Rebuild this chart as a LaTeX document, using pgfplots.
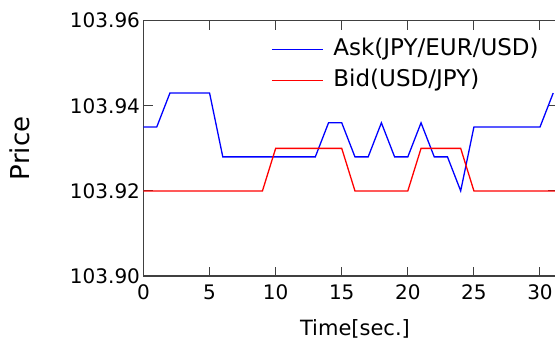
\documentclass[border=0pt]{standalone}
\usepackage{pgfplots}
\pgfplotsset{compat=1.18}
\usepackage{fontspec}
\setmainfont{DejaVu Sans}
\begin{document}
\begin{tikzpicture}
\begin{axis}[
  scale only axis, width=413pt, height=255.3pt,
  xmin=0, xmax=31.25, ymin=103.90, ymax=103.96,
  xtick={0,5,...,30}, ytick={103.90,103.92,103.94,103.96},
  scaled y ticks=false,
  tick align=inside, major tick length=9pt,
  axis line style={black!75, line width=1.3pt},
  every tick/.style={black!75, line width=1pt},
  /pgf/number format/assume math mode=true,
  yticklabel style={/pgf/number format/.cd, fixed, fixed zerofill, precision=2},
  ticklabel style={font=\fontsize{20}{24}\selectfont},
  xticklabel style={yshift=-5pt},
  xlabel={Time[sec.]}, ylabel={Price},
  xlabel style={font=\fontsize{21}{25}\selectfont, at={(axis description cs:0.512,-0.235)}, anchor=base},
  ylabel style={font=\fontsize{26}{30}\selectfont, at={(axis description cs:-0.299,0.5)}, anchor=center},
  every axis legend/.style={at={(axis description cs:0.962,0.94)}, anchor=north east,
    fill=none, font=\fontsize{23}{27}\selectfont, inner sep=0pt, row sep=5pt,
    cells={anchor=west},
    nodes={inner sep=2pt, text height=17pt, text depth=5pt},
    /tikz/every odd column/.append style={column sep=8pt}},
]
\addplot[blue, line width=1.3pt, legend image code/.code={\draw[blue, line width=1.3pt] (0pt,0pt) -- (51pt,0pt);}] coordinates {
 (0,103.935)(1,103.935)(2,103.943)(5,103.943)(6,103.928)(13,103.928)(14,103.936)(15,103.936)
 (16,103.928)(17,103.928)(18,103.936)(19,103.928)(20,103.928)(21,103.936)(22,103.928)(23,103.928)
 (24,103.920)(25,103.935)(30,103.935)(31,103.943)};
\addlegendentry{Ask(JPY/EUR/USD)}
\addplot[red, line width=1.3pt, legend image code/.code={\draw[red, line width=1.3pt] (0pt,0pt) -- (51pt,0pt);}] coordinates {
 (0,103.92)(9,103.92)(10,103.93)(15,103.93)(16,103.92)(20,103.92)(21,103.93)(24,103.93)(25,103.92)(31.25,103.92)};
\addlegendentry{Bid(USD/JPY)}
\end{axis}
\pgfresetboundingbox
\path[use as bounding box] ([xshift=-143.5pt,yshift=-66pt]current axis.south west) rectangle ([xshift=-1.5pt,yshift=20.7pt]current axis.north east);
\end{tikzpicture}
\end{document}
